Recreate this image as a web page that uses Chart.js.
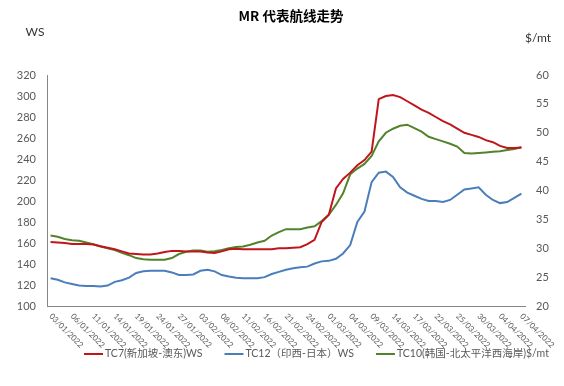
<!DOCTYPE html>
<html>
<head>
<meta charset="utf-8">
<script src="https://cdn.jsdelivr.net/npm/chart.js@4.4.1/dist/chart.umd.min.js"></script>
<style>
  html, body { margin: 0; padding: 0; background: #ffffff; }
</style>
</head>
<body>
<canvas id="chart" width="564" height="386"></canvas>
<script>
// ============================================
// DATEN
// ============================================

// alle Handelstage (Kategorien der x-Achse)
const datum = [
    '03/01/2022', '04/01/2022', '05/01/2022', '06/01/2022', '07/01/2022', '10/01/2022',
    '11/01/2022', '12/01/2022', '13/01/2022', '14/01/2022', '17/01/2022', '18/01/2022',
    '19/01/2022', '20/01/2022', '21/01/2022', '24/01/2022', '25/01/2022', '26/01/2022',
    '27/01/2022', '28/01/2022', '31/01/2022', '03/02/2022', '04/02/2022', '07/02/2022',
    '08/02/2022', '09/02/2022', '10/02/2022', '11/02/2022', '14/02/2022', '15/02/2022',
    '16/02/2022', '17/02/2022', '18/02/2022', '21/02/2022', '22/02/2022', '23/02/2022',
    '24/02/2022', '25/02/2022', '28/02/2022', '01/03/2022', '02/03/2022', '03/03/2022',
    '04/03/2022', '07/03/2022', '08/03/2022', '09/03/2022', '10/03/2022', '11/03/2022',
    '14/03/2022', '15/03/2022', '16/03/2022', '17/03/2022', '18/03/2022', '21/03/2022',
    '22/03/2022', '23/03/2022', '24/03/2022', '25/03/2022', '28/03/2022', '29/03/2022',
    '30/03/2022', '31/03/2022', '01/04/2022', '04/04/2022', '05/04/2022', '06/04/2022',
    '07/04/2022'
];

// Daten, die unter der Achse beschriftet werden
const tickDaten = [
    '03/01/2022', '06/01/2022', '11/01/2022', '14/01/2022', '19/01/2022', '24/01/2022',
    '27/01/2022', '03/02/2022', '08/02/2022', '11/02/2022', '16/02/2022', '21/02/2022',
    '24/02/2022', '01/03/2022', '04/03/2022', '09/03/2022', '14/03/2022', '17/03/2022',
    '22/03/2022', '25/03/2022', '30/03/2022', '04/04/2022', '07/04/2022'
];

// TC7 (WS, linke Achse)
const tc7 = [
    161, 160.5, 160, 159, 159, 159, 158.5, 157, 155.5, 154, 152, 150,
    149.5, 149, 149, 150, 151.5, 152.5, 152.5, 152, 152, 152, 151, 150.5,
    152, 154, 154.5, 154, 154, 154, 154, 154, 155, 155, 155.5, 156,
    159, 163, 180, 187, 212, 221, 227, 234, 239, 247, 297, 300,
    301, 299, 295, 291, 287, 284, 280, 276, 273, 269, 265, 263,
    261, 258, 256, 252.5, 250.5, 250.5, 251
];

// TC12 (WS, linke Achse)
const tc12 = [
    126.5, 125, 122.5, 121, 119.5, 119, 119, 118.5, 119.5, 123, 124.5, 127,
    131.5, 133, 133.5, 133.5, 133.5, 132, 129.5, 129.5, 130, 133.5, 134.5, 133,
    129.5, 128, 127, 126.5, 126.5, 126.5, 127.5, 130.5, 132.5, 134.5, 136, 137,
    137.5, 140.5, 142.5, 143, 145, 150, 158, 180, 190, 218, 227, 228,
    223, 213, 208, 205, 202, 200, 200, 199, 201, 206, 211, 212,
    213, 206, 201, 198, 199, 203, 207
];

// TC10 ($/mt, rechte Achse)
const tc10 = [
    32.2, 32.0, 31.6, 31.4, 31.3, 31.0, 30.7, 30.3, 30.0, 29.7, 29.2, 28.8,
    28.3, 28.1, 28.0, 28.0, 28.0, 28.3, 29.0, 29.4, 29.6, 29.6, 29.4, 29.5,
    29.7, 30.0, 30.2, 30.3, 30.6, 31.0, 31.3, 32.2, 32.8, 33.3, 33.3, 33.3,
    33.6, 33.8, 34.7, 35.8, 37.5, 39.5, 42.8, 43.8, 44.6, 46.0, 48.5, 50.0,
    50.7, 51.2, 51.4, 50.8, 50.2, 49.3, 48.9, 48.5, 48.1, 47.6, 46.5, 46.4,
    46.5, 46.6, 46.7, 46.8, 47.0, 47.2, 47.5
];

const wsTicks = [100, 120, 140, 160, 180, 200, 220, 240, 260, 280, 300, 320];
const mtTicks = [20, 25, 30, 35, 40, 45, 50, 55, 60];

const schrift = 'Lato, "Noto Sans CJK SC", sans-serif';
const grau = '#595959';


// ============================================
// Zusatz-Beschriftung: Titel, Achsentitel, x-Labels, Legende
// ============================================
const beschriftung = {
    id: 'beschriftung',
    afterDraw: function (chart) {
        const ctx = chart.ctx;
        const area = chart.chartArea;
        const xScale = chart.scales.x;

        ctx.save();

        // Titel
        ctx.fillStyle = '#000000';
        ctx.font = 'bold 13.5px "Noto Sans CJK SC", sans-serif';
        ctx.textAlign = 'center';
        ctx.textBaseline = 'middle';
        ctx.fillText('MR 代表航线走势', 291, 16);

        // Einheiten
        ctx.fillStyle = '#333333';
        ctx.font = '12px ' + schrift;
        ctx.fillText('WS', area.left - 12, area.top - 43);
        ctx.fillText('$/mt', area.right + 13, area.top - 37);

        // Datumslabels schräg nach rechts unten
        ctx.fillStyle = grau;
        ctx.font = '8px ' + schrift;
        ctx.textAlign = 'left';
        ctx.textBaseline = 'middle';
        datum.forEach(function (d, i) {
            if (tickDaten.indexOf(d) === -1) return;
            const x = xScale.getPixelForValue(i);
            ctx.save();
            ctx.translate(x, area.bottom + 9);
            ctx.rotate(Math.PI / 4);
            ctx.fillText(d, 0, 0);
            ctx.restore();
        });

        // Legende
        ctx.font = '10.5px ' + schrift;
        ctx.textBaseline = 'middle';
        let x = 84;
        const y = 354;
        chart.data.datasets.forEach(function (ds) {
            ctx.strokeStyle = ds.borderColor;
            ctx.lineWidth = 2;
            ctx.beginPath();
            ctx.moveTo(x, y);
            ctx.lineTo(x + 19, y);
            ctx.stroke();
            ctx.fillStyle = grau;
            ctx.fillText(ds.label, x + 21, y);
            x += 21 + ctx.measureText(ds.label).width + 22;
        });

        ctx.restore();
    }
};


// ============================================
// Diagramm
// ============================================
new Chart(document.querySelector('#chart'), {
    type: 'line',
    data: {
        labels: datum,
        datasets: [
            {
                label: 'TC7(新加坡-澳东)WS',
                data: tc7,
                yAxisID: 'y',
                borderColor: '#C0161B',
                borderWidth: 2,
                pointRadius: 0,
                tension: 0
            },
            {
                label: 'TC12（印西-日本）WS',
                data: tc12,
                yAxisID: 'y',
                borderColor: '#4A7EBB',
                borderWidth: 2,
                pointRadius: 0,
                tension: 0
            },
            {
                label: 'TC10(韩国-北太平洋西海岸)$/mt',
                data: tc10,
                yAxisID: 'y2',
                borderColor: '#52832B',
                borderWidth: 2,
                pointRadius: 0,
                tension: 0
            }
        ]
    },
    options: {
        responsive: false,
        animation: false,
        devicePixelRatio: 1,
        layout: { padding: { top: 75, bottom: 80, left: 0, right: 0 } },
        scales: {
            x: {
                offset: true,
                ticks: { display: false },
                grid: { display: false, drawTicks: false },
                border: { display: true, color: '#868686', width: 1 },
                afterFit: function (scale) { scale.height = 0; }
            },
            y: {
                position: 'left',
                min: wsTicks[0],
                max: wsTicks[wsTicks.length - 1],
                ticks: {
                    stepSize: wsTicks[1] - wsTicks[0],
                    color: grau,
                    font: { family: schrift, size: 11 },
                    padding: 11
                },
                grid: { display: false, drawTicks: false },
                border: { display: true, color: '#868686', width: 1 },
                afterFit: function (scale) { scale.width = 47; }
            },
            y2: {
                position: 'right',
                min: mtTicks[0],
                max: mtTicks[mtTicks.length - 1],
                ticks: {
                    stepSize: mtTicks[1] - mtTicks[0],
                    color: grau,
                    font: { family: schrift, size: 11 },
                    padding: 11
                },
                grid: { display: false, drawTicks: false },
                border: { display: false },
                afterFit: function (scale) { scale.width = 39; }
            }
        },
        plugins: {
            legend: { display: false },
            tooltip: { enabled: false }
        }
    },
    plugins: [beschriftung]
});
</script>
</body>
</html>
